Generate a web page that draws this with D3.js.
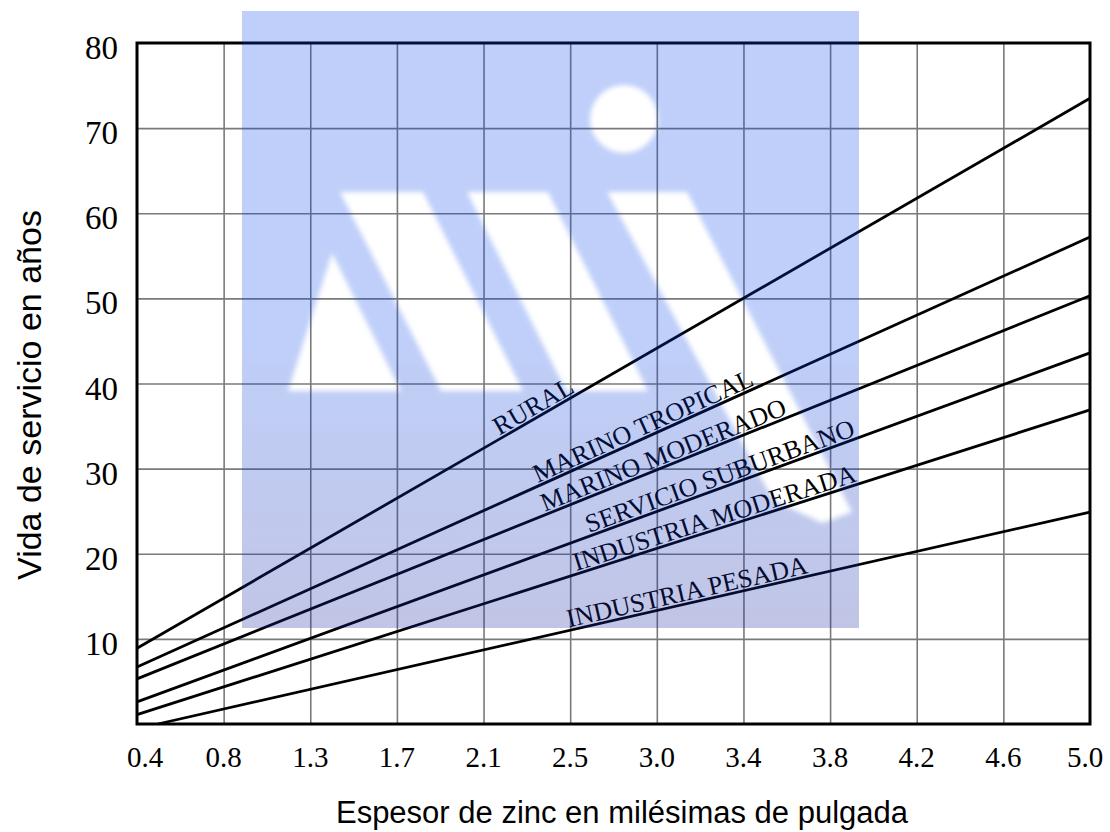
<!DOCTYPE html>
<html>
<head>
<meta charset="utf-8">
<script src="https://cdn.jsdelivr.net/npm/d3@7"></script>
<style>
	body { margin: 0; background: #fff; }
	svg { display: block; }
	.tick-label { font-family: "Liberation Serif", "Times New Roman", serif; fill: #000; }
	.axis-title { font-family: "Liberation Sans", Arial, sans-serif; fill: #000; }
	.line-label { font-family: "Liberation Serif", "Times New Roman", serif; fill: #000; }
</style>
</head>
<body>
<div id="chart"></div>
<script>
// Data
const xTickLabels = ["0.4", "0.8", "1.3", "1.7", "2.1", "2.5", "3.0", "3.4", "3.8", "4.2", "4.6", "5.0"];
const yTickValues = [10, 20, 30, 40, 50, 60, 70, 80];
const seriesNames = ["RURAL", "MARINO TROPICAL", "MARINO MODERADO", "SERVICIO SUBURBANO", "INDUSTRIA MODERADA", "INDUSTRIA PESADA"];
// start of each line, in tick positions (0 = 0.4, 11 = 5.0)
const startAt = [0, 0, 0, 0, 0, 0.24];
const startValues = [8.9, 6.7, 5.3, 2.6, 1.1, 0];
const endValues = [73.5, 57.2, 50.3, 43.6, 36.9, 24.9];

// where each label begins along its line (tick positions)
const labelAt = [4.2, 4.64, 4.72, 5.23, 5.08, 4.99];

// Set up dimensions and margins
const W = 1110, H = 832;
const margin = { top: 43, right: 20, bottom: 108, left: 137 };
const width = W - margin.left - margin.right;
const height = H - margin.top - margin.bottom;

const svg = d3.select("#chart")
	.append("svg")
	.attr("width", W)
	.attr("height", H)
	.attr("viewBox", `0 0 ${W} ${H}`);

const g = svg.append("g")
	.attr("transform", `translate(${margin.left},${margin.top})`);

// Scales
const xScale = d3.scaleLinear().domain([0, xTickLabels.length - 1]).range([0, width]);
const yScale = d3.scaleLinear().domain([0, 80]).range([height, 0]);

// Grid lines
g.append("g")
	.attr("class", "grid")
	.attr("transform", `translate(0,${height})`)
	.call(d3.axisBottom(xScale).tickValues(d3.range(1, xTickLabels.length - 1)).tickSize(-height).tickFormat(""))
	.call((s) => s.select(".domain").remove())
	.selectAll("line")
	.attr("stroke", "#7a7a7a")
	.attr("stroke-width", 1.6);

g.append("g")
	.attr("class", "grid")
	.call(d3.axisLeft(yScale).tickValues(yTickValues.slice(0, -1)).tickSize(-width).tickFormat(""))
	.call((s) => s.select(".domain").remove())
	.selectAll("line")
	.attr("stroke", "#7a7a7a")
	.attr("stroke-width", 1.6);

// Lines
const series = seriesNames.map((name, i) => ({
	name,
	points: [
		{ x: startAt[i], y: startValues[i] },
		{ x: xTickLabels.length - 1, y: endValues[i] },
	],
}));

const line = d3.line()
	.x((d) => xScale(d.x))
	.y((d) => yScale(d.y));

g.selectAll(".series")
	.data(series)
	.enter()
	.append("path")
	.attr("class", "series")
	.attr("d", (d) => line(d.points))
	.attr("fill", "none")
	.attr("stroke", "#000")
	.attr("stroke-width", 2.8);

// Labels along the lines
g.selectAll(".line-label")
	.data(series)
	.enter()
	.append("text")
	.attr("class", "line-label")
	.attr("font-size", 26)
	.attr("transform", (d, i) => {
		const [p0, p1] = d.points;
		const angle = Math.atan2(yScale(p1.y) - yScale(p0.y), xScale(p1.x) - xScale(p0.x)) * 180 / Math.PI;
		const t = (labelAt[i] - p0.x) / (p1.x - p0.x);
		const v = p0.y + t * (p1.y - p0.y);
		return `translate(${xScale(labelAt[i])},${yScale(v)}) rotate(${angle})`;
	})
	.attr("dy", -3)
	.text((d) => d.name);

// Frame
g.append("rect")
	.attr("width", width)
	.attr("height", height)
	.attr("fill", "none")
	.attr("stroke", "#000")
	.attr("stroke-width", 3);

// Watermark (translucent logo laid over the plot)
const defs = svg.append("defs");
const grad = defs.append("linearGradient")
	.attr("id", "wmGrad")
	.attr("x1", 0).attr("y1", 0).attr("x2", 0).attr("y2", 1);
grad.append("stop").attr("offset", 0).attr("stop-color", "rgb(0,65,235)").attr("stop-opacity", 0.25);
grad.append("stop").attr("offset", 0.5).attr("stop-color", "rgb(0,65,235)").attr("stop-opacity", 0.25);
grad.append("stop").attr("offset", 1).attr("stop-color", "rgb(25,40,160)").attr("stop-opacity", 0.27);

defs.append("filter")
	.attr("id", "wmBlur")
	.attr("x", "-10%").attr("y", "-10%").attr("width", "120%").attr("height", "120%")
	.append("feGaussianBlur")
	.attr("stdDeviation", 2.5);

const mask = defs.append("mask")
	.attr("id", "wmMask")
	.attr("maskUnits", "userSpaceOnUse")
	.attr("x", 0).attr("y", 0).attr("width", W).attr("height", H);
mask.append("rect").attr("width", W).attr("height", H).attr("fill", "#fff");
const holes = mask.append("g").attr("fill", "#000").attr("filter", "url(#wmBlur)");
holes.append("circle").attr("cx", 624).attr("cy", 119).attr("r", 34);
const logoShapes = [
	[[332, 253], [288, 391], [401, 391]],
	[[340, 192], [423, 192], [523, 391], [441, 391]],
	[[467, 192], [548, 192], [648, 391], [566, 391]],
	[[607, 192], [687, 192], [852, 512], [822, 523], [773, 500]],
];
holes.selectAll("polygon")
	.data(logoShapes)
	.enter()
	.append("polygon")
	.attr("points", (d) => d.map((p) => p.join(",")).join(" "));

svg.append("rect")
	.attr("x", 242)
	.attr("y", 11)
	.attr("width", 617)
	.attr("height", 617)
	.attr("fill", "url(#wmGrad)")
	.attr("mask", "url(#wmMask)");

// Tick labels
svg.append("g")
	.selectAll("text")
	.data(yTickValues)
	.enter()
	.append("text")
	.attr("class", "tick-label")
	.attr("font-size", 33)
	.attr("text-anchor", "end")
	.attr("x", margin.left - 19)
	.attr("y", (d) => margin.top + yScale(d) + 16)
	.text((d) => d);

// end labels are pulled inward a little, as in the original
svg.append("g")
	.selectAll("text")
	.data(xTickLabels)
	.enter()
	.append("text")
	.attr("class", "tick-label")
	.attr("font-size", 29)
	.attr("text-anchor", "middle")
	.attr("x", (d, i) => Math.min(Math.max(margin.left + xScale(i), 145), 1085))
	.attr("y", margin.top + height + 43)
	.text((d) => d);

// Axis titles
svg.append("text")
	.attr("class", "axis-title")
	.attr("font-size", 31)
	.attr("text-anchor", "middle")
	.attr("x", 622)
	.attr("y", 823)
	.text("Espesor de zinc en milésimas de pulgada");

svg.append("text")
	.attr("class", "axis-title")
	.attr("font-size", 34)
	.attr("text-anchor", "middle")
	.attr("transform", "translate(41,395) rotate(-90)")
	.text("Vida de servicio en años");
</script>
</body>
</html>
